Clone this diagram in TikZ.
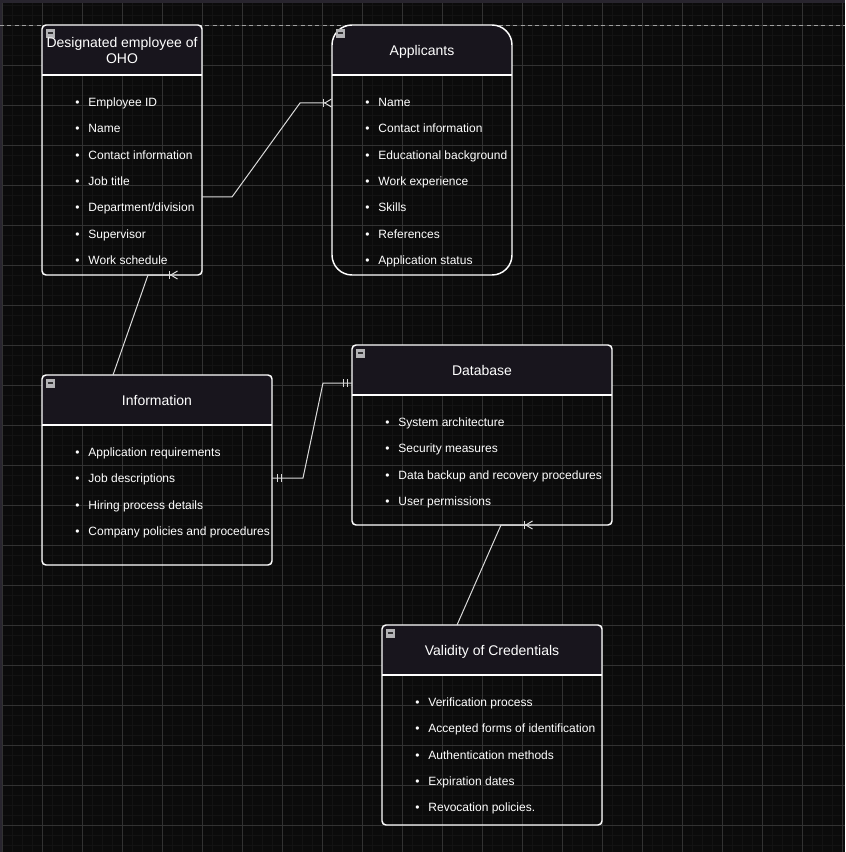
\documentclass[tikz,border=0pt]{standalone}
\usepackage{fontspec}
\setmainfont{Liberation Sans}
\usetikzlibrary{arrows.meta,fit,decorations.markings}

\definecolor{canvas}{HTML}{0B0B0B}
\definecolor{gridminor}{HTML}{131313}
\definecolor{gridmajor}{HTML}{323232}
\definecolor{headfill}{HTML}{18151D}
\definecolor{framebar}{HTML}{28252E}
\definecolor{linkgray}{HTML}{DADADA}
\definecolor{iconfill}{HTML}{B4B4B8}

\tikzset{
  entity/.style={draw=white, line width=1.1pt, inner sep=0pt, outer sep=0pt},
  title/.style={text=white, font=\fontsize{10.5}{12}\selectfont, align=center,
    text height=7.6pt, text depth=0pt},
  attr/.style={text=white, font=\fontsize{9}{11}\selectfont, anchor=west, inner sep=0pt,
    text height=6.6pt, text depth=0pt},
  rel/.style={draw=linkgray, line width=0.75pt},
  many/.style={-{Bar[width=6pt,sep=0pt]Straight Barb[reversed,length=5pt,width=6pt]}},
  tick/.style={draw=linkgray, line width=0.75pt},
  mandone/.style={postaction={decorate}, decoration={markings,
    mark=at position 3.75pt with {\draw[tick] (0,-3pt) -- (0,3pt);},
    mark=at position 6.75pt with {\draw[tick] (0,-3pt) -- (0,3pt);},
    mark=at position -3.75pt with {\draw[tick] (0,-3pt) -- (0,3pt);},
    mark=at position -6.75pt with {\draw[tick] (0,-3pt) -- (0,3pt);}}},
}

\begin{document}
\begin{tikzpicture}[x=0.75pt, y=-0.75pt]
      \useasboundingbox (0,0) rectangle (845,852);
      \fill[canvas] (0,0) rectangle (845,852);
      % grid
      \foreach \x in {2,12,...,842} {
        \draw[gridminor, line width=0.4pt] (\x,0) -- (\x,852);
      }
      \foreach \y in {5,15,...,845} {
        \draw[gridminor, line width=0.4pt] (0,\y) -- (845,\y);
      }
      \foreach \x in {2,42,...,842} {
        \draw[gridmajor, line width=0.5pt] (\x,0) -- (\x,852);
      }
      \foreach \y in {25,65,...,825} {
        \draw[gridmajor, line width=0.5pt] (0,\y) -- (845,\y);
      }
      \fill[framebar] (0,0) rectangle (845,3);
      \fill[framebar] (0,0) rectangle (2,852);
      \draw[gray!75, line width=0.6pt, dash pattern=on 3pt off 2.5pt] (0,25) -- (845,25);

      % entities: name / left / top / right / bottom / corner radius
      \foreach \n/\xa/\ya/\xb/\yb/\r in {emp/42/25/202/275/3pt, app/332/25/512/275/15pt,
          inf/42/375/272/565/3pt, db/352/345/612/525/3pt, val/382/625/602/825/3pt} {
        \fill[headfill, rounded corners=\r] (\xa,\ya) rectangle (\xb,\ya+50);
        \fill[headfill] (\xa,\ya+25) rectangle (\xb,\ya+50);
        \node[entity, rounded corners=\r, fit={(\xa,\ya) (\xb,\yb)}] (\n) {};
        \draw[white, line width=1.1pt] (\xa,\ya+50) -- (\xb,\ya+50);
        \filldraw[fill=iconfill, draw=gray!60, line width=0.4pt] (\xa+4,\ya+4) rectangle (\xa+12,\ya+12);
        \draw[black!80, line width=1pt] (\xa+5.5,\ya+8) -- (\xa+10.5,\ya+8);
      }

      \node[title] (emp-title) at (122,58) {Designated employee of\\OHO};
      \node[title] (app-title) at (422,50) {Applicants};
      \node[title] (inf-title) at (157,400) {Information};
      \node[title] (db-title) at (482,370) {Database};
      \node[title] (val-title) at (492,650) {Validity of Credentials};

      \foreach \t [count=\i] in {Employee ID, Name, Contact information, Job title,
          Department/division, Supervisor, Work schedule} {
        \node[attr] (emp-\i) at (75, {102+26.33*(\i-1)}) {•\hskip6.75pt \t};
      }
      \foreach \t [count=\i] in {Name, Contact information, Educational background,
          Work experience, Skills, References, Application status} {
        \node[attr] (app-\i) at (365, {102+26.33*(\i-1)}) {•\hskip6.75pt \t};
      }
      \foreach \t [count=\i] in {Application requirements, Job descriptions,
          Hiring process details, Company policies and procedures} {
        \node[attr] (inf-\i) at (75, {452+26.33*(\i-1)}) {•\hskip6.75pt \t};
      }
      \foreach \t [count=\i] in {System architecture, Security measures,
          Data backup and recovery procedures, User permissions} {
        \node[attr] (db-\i) at (385, {422+26.33*(\i-1)}) {•\hskip6.75pt \t};
      }
      \foreach \t [count=\i] in {Verification process, Accepted forms of identification,
          Authentication methods, Expiration dates, Revocation policies.} {
        \node[attr] (val-\i) at (415, {702+26.33*(\i-1)}) {•\hskip6.75pt \t};
      }

      % relations
      \draw[rel, many] ([yshift=-35.25pt]emp.east) -- ++(30,0) -- ++(68,-94) -- ([yshift=35.25pt]app.west);
      \draw[rel, many] ([xshift=-33pt]inf.north) -- ([xshift=19.5pt]emp.south) -- ++(30,0);
      \draw[rel, mandone] ([yshift=-6pt]inf.east) -- ++(31,0) -- ++(20,-95) -- ([yshift=39pt]db.west);
      \draw[rel, many] ([xshift=-26.25pt]val.north) -- ([xshift=14.25pt]db.south) -- ++(32,0);
    \end{tikzpicture}
\end{document}
